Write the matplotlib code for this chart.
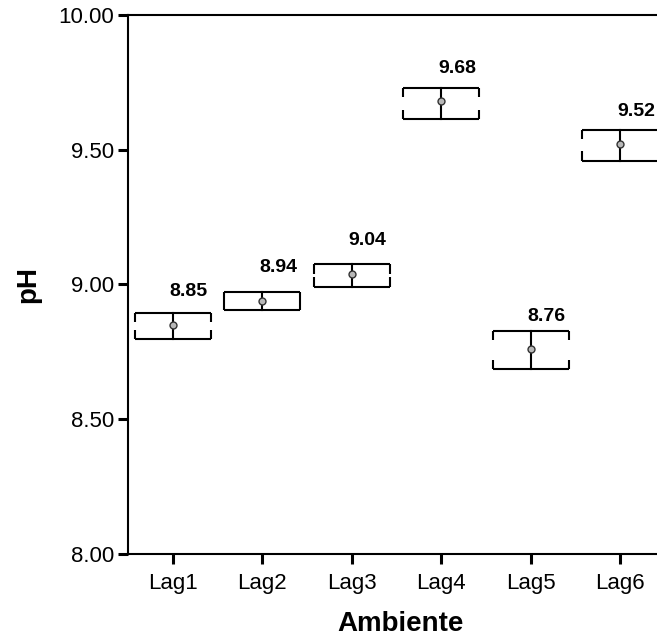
import matplotlib
matplotlib.use("Agg")
import matplotlib.pyplot as plt

plt.rcParams['font.family'] = ['Liberation Sans', 'DejaVu Sans']

# pH by environment: mean with 95% CI
groups = ["Lag1", "Lag2", "Lag3", "Lag4", "Lag5", "Lag6"]
mean_ph = [8.85, 8.94, 9.04, 9.68, 8.76, 9.52]
ci_low = [8.797, 8.905, 8.992, 9.614, 8.685, 9.459]
ci_high = [8.895, 8.971, 9.075, 9.730, 8.829, 9.573]

fig = plt.figure(figsize=(6.57, 6.43), dpi=100)
ax = fig.add_axes([0.1948, 0.1384, 0.8174, 0.8383])

x = range(1, len(groups) + 1)
half = 0.425     # half width of each box
side = 0.035     # length of the broken side pieces
lw = 1.5

for xi, m, lo, hi in zip(x, mean_ph, ci_low, ci_high):
    # top and bottom of the interval
    ax.plot([xi - half, xi + half], [hi, hi], color='black', lw=lw, solid_capstyle='butt')
    ax.plot([xi - half, xi + half], [lo, lo], color='black', lw=lw, solid_capstyle='butt')
    # broken sides
    seg = min(side, (hi - lo) / 2)
    for sx in (xi - half, xi + half):
        ax.plot([sx, sx], [hi, hi - seg], color='black', lw=lw, solid_capstyle='butt')
        ax.plot([sx, sx], [lo, lo + seg], color='black', lw=lw, solid_capstyle='butt')
    # centre line and mean marker
    ax.plot([xi, xi], [lo, hi], color='black', lw=lw)
    ax.plot(xi, m, marker='o', ms=5, mfc='#b8b8b8', mec='#333333', mew=1.0, zorder=5)
    ax.annotate(f"{m:.2f}", (xi, m), xytext=(16, 33), textcoords='offset pixels',
                ha='center', va='center', fontsize=14, fontweight='bold')

ax.set_xlim(0.5, 6.5)
ax.set_ylim(8.0, 10.0)
ax.set_xticks(list(x))
ax.set_xticklabels(groups)
ax.set_yticks([8.0, 8.5, 9.0, 9.5, 10.0])
ax.set_yticklabels([f"{v:.2f}" for v in [8.0, 8.5, 9.0, 9.5, 10.0]])

for s in ('left', 'bottom', 'top'):
    ax.spines[s].set_linewidth(1.5)
ax.spines['right'].set_visible(False)
ax.tick_params(axis='both', direction='out', length=7, width=2.2, labelsize=16, pad=3)
ax.tick_params(axis='x', pad=7)

ax.set_xlabel("Ambiente", fontsize=20, fontweight='bold')
ax.xaxis.set_label_coords(0.508, -0.105)
ax.set_ylabel("pH", fontsize=20, fontweight='bold', labelpad=12)

fig.savefig("out.png", dpi=100)
